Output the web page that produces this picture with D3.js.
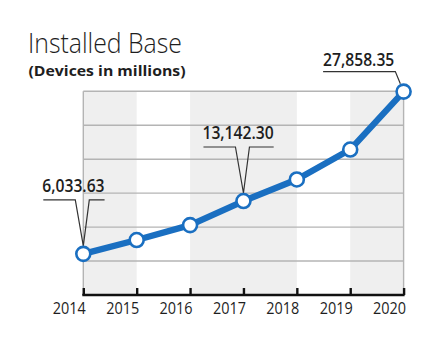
<!DOCTYPE html>
<html>
<head>
<meta charset="utf-8">
<script src="https://cdn.jsdelivr.net/npm/d3@7/dist/d3.min.js"></script>
<style>
  html, body { margin: 0; padding: 0; background: #ffffff; }
  svg { display: block; }
  text { font-family: "Open Sans", "Noto Sans", sans-serif; fill: #1e1e1e; }
</style>
</head>
<body>
<svg id="chart" width="440" height="341"></svg>
<script>
// ---- data ----
const years = [2014, 2015, 2016, 2017, 2018, 2019, 2020];
const values = [6033.63, 7890, 9900, 13142.30, 16040, 20070, 27858.35];
const shadedBands = [[2014, 2015], [2016, 2018], [2019, 2020]];
const calloutYears = [2014, 2017];   // labels with a notch pointer
const leaderYears = [2020];          // label with an angled leader
const titleText = "Installed Base";
const subtitleText = "(Devices in millions)";
const yDomain = [500, 27900];
const gridCount = 6;

// ---- layout ----
const svg = d3.select("#chart");
const plot = { left: 83.3, right: 403.6, top: 91.3, bottom: 295 };
const blue = "#1a6fc1";
const fmt = d3.format(",.2f");

const x = d3.scaleLinear().domain([years[0], years[years.length - 1]]).range([plot.left, plot.right]);
const y = d3.scaleLinear().domain(yDomain).range([plot.bottom, plot.top]);

// shaded columns
svg.append("g").selectAll("rect").data(shadedBands).join("rect")
  .attr("x", d => x(d[0]))
  .attr("width", d => x(d[1]) - x(d[0]))
  .attr("y", plot.top)
  .attr("height", plot.bottom - plot.top)
  .attr("fill", "#efefef");

// gridlines
const gridValues = d3.range(1, gridCount + 1).map(i => yDomain[0] + i * (yDomain[1] - yDomain[0]) / gridCount);
svg.append("g").selectAll("line").data(gridValues).join("line")
  .attr("x1", plot.left).attr("x2", plot.right)
  .attr("y1", d => y(d)).attr("y2", d => y(d))
  .attr("stroke", "#b4b4b4").attr("stroke-width", 1.4);

// side borders
svg.append("g").selectAll("line").data([years[0], years[years.length - 1]]).join("line")
  .attr("x1", d => x(d)).attr("x2", d => x(d))
  .attr("y1", plot.top).attr("y2", plot.bottom)
  .attr("stroke", "#b4b4b4").attr("stroke-width", 1.4);

// x axis
const xAxis = d3.axisBottom(x).tickValues(years).tickFormat(d3.format("d")).tickSize(0).tickPadding(0);
const axisG = svg.append("g").attr("transform", `translate(0,${plot.bottom})`).call(xAxis);
axisG.select(".domain").remove();
axisG.selectAll(".tick text")
  .attr("text-anchor", "end")
  .attr("dx", 2)
  .attr("y", 18.5)
  .attr("dy", 0)
  .style("font-family", '"Open Sans", sans-serif')
  .style("font-size", "16px")
  .attr("fill", "#1e1e1e")
  .attr("textLength", 33).attr("lengthAdjust", "spacingAndGlyphs");
axisG.selectAll(".tick").append("line")
  .attr("y1", -7).attr("y2", 0)
  .attr("stroke", "#111").attr("stroke-width", 2.4);
axisG.append("line")
  .attr("x1", plot.left - 1).attr("x2", plot.right + 1)
  .attr("y1", 0).attr("y2", 0)
  .attr("stroke", "#111").attr("stroke-width", 2.4);

// data points
const pts = years.map((yr, i) => ({ year: yr, value: values[i] }));

// callouts (drawn before markers)
const cg = svg.append("g");
function condensedLabel(g, tx, ty, txt) {
  const t = g.append("text")
    .attr("x", tx).attr("y", ty)
    .style("font-size", "18px").style("font-weight", 600)
    .text(txt);
  const w = t.node().getComputedTextLength() * 0.87;
  t.attr("textLength", w).attr("lengthAdjust", "spacingAndGlyphs");
  return w;
}
calloutYears.forEach(yr => {
  const p = pts.find(d => d.year === yr);
  const px = x(p.year), py = y(p.value);
  const ly = py - 54;
  const left = px - 41;
  const w = condensedLabel(cg, left, ly - 8, fmt(p.value));
  const right = left + w;
  cg.append("path")
    .attr("d", `M${left + 1},${ly} H${px - 8} L${px},${py - 8} L${px + 6},${ly} H${right}`)
    .attr("fill", "none").attr("stroke", "#333").attr("stroke-width", 1.2);
});
leaderYears.forEach(yr => {
  const p = pts.find(d => d.year === yr);
  const px = x(p.year), py = y(p.value);
  const ly = py - 20;
  const left = px - 80.5;
  const w = condensedLabel(cg, left, ly - 5.5, fmt(p.value));
  const right = left + w + 1;
  const dx = px - right, dy = py - ly, len = Math.hypot(dx, dy);
  const ex = px - dx * 8.5 / len, ey = py - dy * 8.5 / len;
  cg.append("path")
    .attr("d", `M${left},${ly} H${right} L${ex},${ey}`)
    .attr("fill", "none").attr("stroke", "#333").attr("stroke-width", 1.2);
});

// line
svg.append("path").datum(pts)
  .attr("d", d3.line().x(d => x(d.year)).y(d => y(d.value)))
  .attr("fill", "none").attr("stroke", blue).attr("stroke-width", 6.3)
  .attr("stroke-linejoin", "round");

// markers
svg.append("g").selectAll("circle").data(pts).join("circle")
  .attr("cx", d => x(d.year)).attr("cy", d => y(d.value))
  .attr("r", 7)
  .attr("fill", "#fff").attr("stroke", blue).attr("stroke-width", 2.6);

// titles
svg.append("text").attr("x", 28).attr("y", 52.5)
  .style("font-size", "27.5px").style("font-weight", 300).text(titleText)
  .attr("textLength", 154).attr("lengthAdjust", "spacingAndGlyphs");
svg.append("text").attr("x", 28.5).attr("y", 75.5)
  .style("font-size", "14px").style("font-weight", 700).text(subtitleText)
  .attr("textLength", 157).attr("lengthAdjust", "spacingAndGlyphs");
</script>
</body>
</html>
